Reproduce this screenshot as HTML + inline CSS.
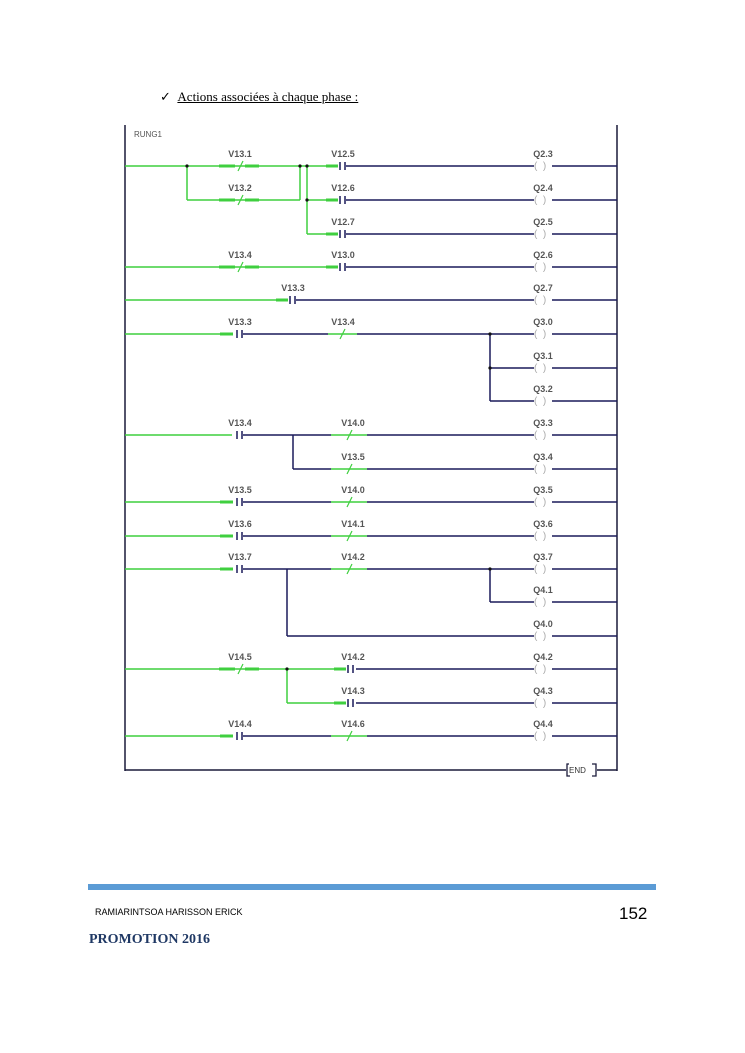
<!DOCTYPE html>
<html><head><meta charset="utf-8"><style>
body{margin:0;background:#fff;width:745px;height:1053px;overflow:hidden;position:relative;font-family:"Liberation Serif",serif}
.t{position:absolute}
</style></head><body>
<div class="t" style="left:160px;top:89px;font-size:13px">✓ &nbsp;<span style="text-decoration:underline">Actions associées à chaque phase :</span></div>
<svg width="745" height="1053" style="position:absolute;left:0;top:0" font-family="Liberation Sans, sans-serif" font-size="9" font-weight="bold" fill="#555">
<g stroke-width="1.5" fill="none">
<!-- rails -->
<line x1="125" y1="125" x2="125" y2="771" stroke="#1a1a3a"/>
<line x1="617" y1="125" x2="617" y2="771" stroke="#1a1a3a"/>
<line x1="125" y1="770" x2="566" y2="770" stroke="#1a1a3a"/>
<line x1="597" y1="770" x2="617" y2="770" stroke="#1a1a3a"/>
<!-- green lines -->
<g stroke="#3fcf3f">
<line x1="125" y1="166" x2="335" y2="166"/>
<line x1="187" y1="166" x2="187" y2="200"/><line x1="187" y1="200" x2="300" y2="200"/><line x1="300" y1="166" x2="300" y2="200"/>
<line x1="307" y1="166" x2="307" y2="234"/><line x1="307" y1="200" x2="335" y2="200"/><line x1="307" y1="234" x2="335" y2="234"/>
<line x1="125" y1="267" x2="335" y2="267"/>
<line x1="125" y1="300" x2="287" y2="300"/>
<line x1="125" y1="334" x2="232" y2="334"/><line x1="328" y1="334" x2="357" y2="334"/>
<line x1="125" y1="435" x2="232" y2="435"/><line x1="331" y1="435" x2="367" y2="435"/><line x1="331" y1="469" x2="367" y2="469"/>
<line x1="125" y1="502" x2="232" y2="502"/><line x1="331" y1="502" x2="367" y2="502"/>
<line x1="125" y1="536" x2="232" y2="536"/><line x1="331" y1="536" x2="367" y2="536"/>
<line x1="125" y1="569" x2="232" y2="569"/><line x1="331" y1="569" x2="367" y2="569"/>
<line x1="125" y1="669" x2="339" y2="669"/><line x1="287" y1="669" x2="287" y2="703"/><line x1="287" y1="703" x2="339" y2="703"/>
<line x1="125" y1="736" x2="232" y2="736"/><line x1="331" y1="736" x2="367" y2="736"/>
</g>
<g stroke="#3fcf3f" stroke-width="3">
<line x1="219" y1="166" x2="235" y2="166"/><line x1="245" y1="166" x2="259" y2="166"/>
<line x1="219" y1="200" x2="235" y2="200"/><line x1="245" y1="200" x2="259" y2="200"/>
<line x1="219" y1="267" x2="235" y2="267"/><line x1="245" y1="267" x2="259" y2="267"/>
<line x1="219" y1="669" x2="235" y2="669"/><line x1="245" y1="669" x2="259" y2="669"/>
<line x1="326" y1="166" x2="338" y2="166"/><line x1="326" y1="200" x2="338" y2="200"/><line x1="326" y1="234" x2="338" y2="234"/><line x1="326" y1="267" x2="338" y2="267"/>
<line x1="276" y1="300" x2="288" y2="300"/>
<line x1="220" y1="334" x2="233" y2="334"/><line x1="220" y1="502" x2="233" y2="502"/><line x1="220" y1="536" x2="233" y2="536"/><line x1="220" y1="569" x2="233" y2="569"/><line x1="220" y1="736" x2="233" y2="736"/>
<line x1="334" y1="669" x2="346" y2="669"/><line x1="334" y1="703" x2="346" y2="703"/>
</g>
<!-- NC slashes -->
<g stroke="#3fcf3f" stroke-width="1.2">
<line x1="238" y1="171" x2="243" y2="161"/><line x1="238" y1="205" x2="243" y2="195"/><line x1="238" y1="272" x2="243" y2="262"/><line x1="238" y1="674" x2="243" y2="664"/>
<line x1="340" y1="339" x2="345" y2="329"/><line x1="347" y1="440" x2="352" y2="430"/><line x1="347" y1="474" x2="352" y2="464"/><line x1="347" y1="507" x2="352" y2="497"/><line x1="347" y1="541" x2="352" y2="531"/><line x1="347" y1="574" x2="352" y2="564"/><line x1="347" y1="741" x2="352" y2="731"/>
</g>
<!-- navy lines -->
<g stroke="#1a1a5a">
<line x1="346" y1="166" x2="534" y2="166"/><line x1="346" y1="200" x2="534" y2="200"/><line x1="346" y1="234" x2="534" y2="234"/><line x1="346" y1="267" x2="534" y2="267"/>
<line x1="296" y1="300" x2="534" y2="300"/>
<line x1="243" y1="334" x2="328" y2="334"/><line x1="357" y1="334" x2="534" y2="334"/>
<line x1="490" y1="334" x2="490" y2="401"/><line x1="490" y1="368" x2="534" y2="368"/><line x1="490" y1="401" x2="534" y2="401"/>
<line x1="243" y1="435" x2="331" y2="435"/><line x1="367" y1="435" x2="534" y2="435"/>
<line x1="293" y1="435" x2="293" y2="469"/><line x1="293" y1="469" x2="331" y2="469"/><line x1="367" y1="469" x2="534" y2="469"/>
<line x1="243" y1="502" x2="331" y2="502"/><line x1="367" y1="502" x2="534" y2="502"/>
<line x1="243" y1="536" x2="331" y2="536"/><line x1="367" y1="536" x2="534" y2="536"/>
<line x1="243" y1="569" x2="331" y2="569"/><line x1="367" y1="569" x2="534" y2="569"/>
<line x1="287" y1="569" x2="287" y2="636"/><line x1="287" y1="636" x2="534" y2="636"/>
<line x1="490" y1="569" x2="490" y2="602"/><line x1="490" y1="602" x2="534" y2="602"/>
<line x1="356" y1="669" x2="534" y2="669"/><line x1="356" y1="703" x2="534" y2="703"/>
<line x1="243" y1="736" x2="331" y2="736"/><line x1="367" y1="736" x2="534" y2="736"/>
</g>
<!-- NO contact bars -->
<g stroke="#1a1a5a" stroke-width="1.5">
<path d="M340 162v8M345 162v8M340 196v8M345 196v8M340 230v8M345 230v8M340 263v8M345 263v8M290 296v8M295 296v8M237 330v8M242 330v8M237 431v8M242 431v8M237 498v8M242 498v8M237 532v8M242 532v8M237 565v8M242 565v8M237 732v8M242 732v8M348 665v8M353 665v8M348 699v8M353 699v8"/>
</g>
<!-- coils -->
<g stroke="#1a1a5a">
<line x1="552" y1="166" x2="617" y2="166"/><line x1="552" y1="200" x2="617" y2="200"/><line x1="552" y1="234" x2="617" y2="234"/><line x1="552" y1="267" x2="617" y2="267"/><line x1="552" y1="300" x2="617" y2="300"/><line x1="552" y1="334" x2="617" y2="334"/><line x1="552" y1="368" x2="617" y2="368"/><line x1="552" y1="401" x2="617" y2="401"/><line x1="552" y1="435" x2="617" y2="435"/><line x1="552" y1="469" x2="617" y2="469"/><line x1="552" y1="502" x2="617" y2="502"/><line x1="552" y1="536" x2="617" y2="536"/><line x1="552" y1="569" x2="617" y2="569"/><line x1="552" y1="602" x2="617" y2="602"/><line x1="552" y1="636" x2="617" y2="636"/><line x1="552" y1="669" x2="617" y2="669"/><line x1="552" y1="703" x2="617" y2="703"/><line x1="552" y1="736" x2="617" y2="736"/>
</g>
</g>
<g fill="#111"><circle cx="187" cy="166" r="1.6"/><circle cx="300" cy="166" r="1.6"/><circle cx="307" cy="166" r="1.6"/><circle cx="307" cy="200" r="1.6"/><circle cx="490" cy="334" r="1.6"/><circle cx="490" cy="368" r="1.6"/><circle cx="287" cy="669" r="1.6"/><circle cx="490" cy="569" r="1.6"/></g>
<g fill="#aaa" font-size="10" font-weight="normal">
<text x="534" y="169">(&#160;&#160;)</text><text x="534" y="203">(&#160;&#160;)</text><text x="534" y="237">(&#160;&#160;)</text><text x="534" y="270">(&#160;&#160;)</text><text x="534" y="303">(&#160;&#160;)</text><text x="534" y="337">(&#160;&#160;)</text><text x="534" y="371">(&#160;&#160;)</text><text x="534" y="404">(&#160;&#160;)</text><text x="534" y="438">(&#160;&#160;)</text><text x="534" y="472">(&#160;&#160;)</text><text x="534" y="505">(&#160;&#160;)</text><text x="534" y="539">(&#160;&#160;)</text><text x="534" y="572">(&#160;&#160;)</text><text x="534" y="605">(&#160;&#160;)</text><text x="534" y="639">(&#160;&#160;)</text><text x="534" y="672">(&#160;&#160;)</text><text x="534" y="706">(&#160;&#160;)</text><text x="534" y="739">(&#160;&#160;)</text>
</g>
<text x="134" y="137" font-size="8" font-weight="normal">RUNG1</text>
<g text-anchor="middle">
<text x="240" y="157">V13.1</text><text x="240" y="191">V13.2</text><text x="343" y="157">V12.5</text><text x="343" y="191">V12.6</text><text x="343" y="225">V12.7</text>
<text x="240" y="258">V13.4</text><text x="343" y="258">V13.0</text><text x="293" y="291">V13.3</text>
<text x="240" y="325">V13.3</text><text x="343" y="325">V13.4</text>
<text x="240" y="426">V13.4</text><text x="353" y="426">V14.0</text><text x="353" y="460">V13.5</text>
<text x="240" y="493">V13.5</text><text x="353" y="493">V14.0</text>
<text x="240" y="527">V13.6</text><text x="353" y="527">V14.1</text>
<text x="240" y="560">V13.7</text><text x="353" y="560">V14.2</text>
<text x="240" y="660">V14.5</text><text x="353" y="660">V14.2</text><text x="353" y="694">V14.3</text>
<text x="240" y="727">V14.4</text><text x="353" y="727">V14.6</text>
<text x="543" y="157">Q2.3</text><text x="543" y="191">Q2.4</text><text x="543" y="225">Q2.5</text><text x="543" y="258">Q2.6</text><text x="543" y="291">Q2.7</text><text x="543" y="325">Q3.0</text><text x="543" y="359">Q3.1</text><text x="543" y="392">Q3.2</text><text x="543" y="426">Q3.3</text><text x="543" y="460">Q3.4</text><text x="543" y="493">Q3.5</text><text x="543" y="527">Q3.6</text><text x="543" y="560">Q3.7</text><text x="543" y="593">Q4.1</text><text x="543" y="627">Q4.0</text><text x="543" y="660">Q4.2</text><text x="543" y="694">Q4.3</text><text x="543" y="727">Q4.4</text>
</g>
<text x="569" y="773" font-size="8" font-weight="normal" fill="#333">END</text>
<path d="M569 764h-2v12h3M592 764h4v12h-4" stroke="#1a1a3a" stroke-width="1.3" fill="none"/>
<rect x="88" y="884" width="568" height="6" fill="#5b9bd5"/>
</svg>
<div class="t" style="left:95px;top:907px;font-family:'Liberation Sans',sans-serif;font-size:9px">RAMIARINTSOA HARISSON ERICK</div>
<div class="t" style="left:619px;top:904px;font-family:'Liberation Sans',sans-serif;font-size:17px">152</div>
<div class="t" style="left:89px;top:932px;font-size:14px;font-weight:bold;color:#1f3864">PROMOTION 2016</div>
</body></html>
